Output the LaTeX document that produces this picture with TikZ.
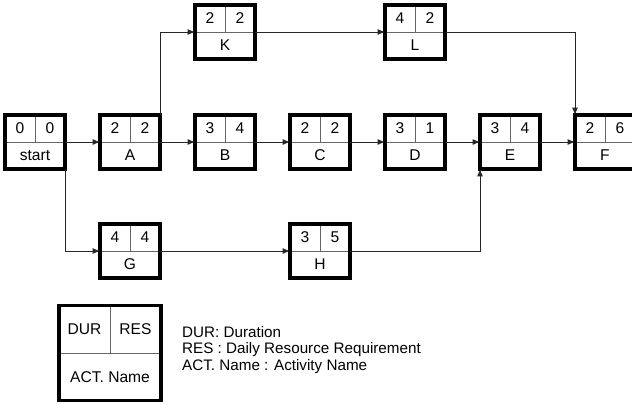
\documentclass[tikz,border=0pt]{standalone}
\usepackage{fontspec}
\setmainfont{Liberation Sans}
\usetikzlibrary{arrows.meta,positioning,calc}

% one activity box: name, x, y, duration, resource, label
\newcommand{\actbox}[6]{%
  \node[actnode] (#1) at (#2,#3) {};
  \draw[divline] (#1.west) -- (#1.east);
  \draw[divline] (#1.north) -- (#1.center);
  \draw[boxline] (#1.south west) rectangle (#1.north east);
  \node[boxtext] (#1-dur) at ($(#1.north west)!0.5!(#1.center)$) {#4};
  \node[boxtext] (#1-res) at ($(#1.north east)!0.5!(#1.center)$) {#5};
  \node[boxtext] (#1-name) at ($(#1.south)!0.5!(#1.center)$) {#6};
}

\begin{document}
\begin{tikzpicture}[x=0.3mm,y=-0.3mm,
  actnode/.style={inner sep=0pt,outer sep=0pt,
    minimum width=18mm,minimum height=16.2mm},
  legnode/.style={inner sep=0pt,outer sep=0pt,
    minimum width=30.6mm,minimum height=28.5mm},
  boxline/.style={line width=2.9pt,black},
  divline/.style={line width=0.6pt,black!60},
  boxtext/.style={font=\fontsize{13.3}{15}\selectfont,inner sep=0pt},
  legtext/.style={font=\fontsize{13}{14.2}\selectfont,align=left},
  arr/.style={-{Latex[length=2.2mm,width=1.8mm]},line width=0.8pt,black!85}
]
  \useasboundingbox (0,0) rectangle (632,403);
  \clip (0,0) rectangle (632,403);

  \actbox{start}{35}{142}{0}{0}{start}
  \actbox{A}{130}{142}{2}{2}{A}
  \actbox{B}{225}{142}{3}{4}{B}
  \actbox{C}{320}{142}{2}{2}{C}
  \actbox{D}{415}{142}{3}{1}{D}
  \actbox{E}{510}{142}{3}{4}{E}
  \actbox{F}{605}{142}{2}{6}{F}
  \actbox{K}{225}{32}{2}{2}{K}
  \actbox{L}{415}{32}{4}{2}{L}
  \actbox{G}{130}{251}{4}{4}{G}
  \actbox{H}{320}{251}{3}{5}{H}

  \foreach \a/\b in {start/A,A/B,B/C,C/D,D/E,E/F}
    \draw[arr] (\a) -- (\b);
  \draw[arr] (A.north east) |- (K.west);
  \draw[arr] (K) -- (L);
  \draw[arr] (L.east) -| (F.north west);
  \draw[arr] (start.south east) |- (G.west);
  \draw[arr] (G) -- (H);
  \draw[arr] (H.east) -| (E.south west);

  % legend
  \node[legnode] (leg) at (110,353) {};
  \draw[divline] (leg.west) -- (leg.east);
  \draw[divline] (leg.north) -- (leg.center);
  \draw[boxline] (leg.south west) rectangle (leg.north east);
  \node[boxtext] (leg-dur) at ($(leg.north west)!0.5!(leg.center)$) {DUR};
  \node[boxtext] (leg-res) at ($(leg.north east)!0.5!(leg.center)$) {RES};
  \node[boxtext] (leg-name) at ($(leg.south)!0.5!(leg.center)$) {ACT. Name};
  \node[legtext,anchor=west] (legkey) at (178,350)
    {DUR: Duration\\RES : Daily Resource Requirement\\ACT. Name : Activity Name};
\end{tikzpicture}
\end{document}
